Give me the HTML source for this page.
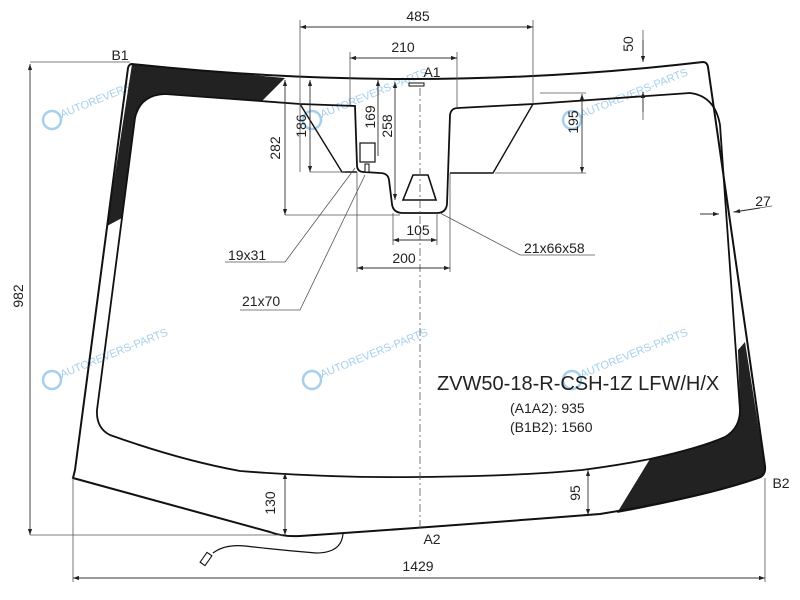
<!DOCTYPE html>
<html><head><meta charset="utf-8"><style>
html,body{margin:0;padding:0;background:#fff;}
svg{display:block;font-family:"Liberation Sans",Arial,sans-serif;}
</style></head><body>
<svg width="800" height="600" viewBox="0 0 800 600" xmlns="http://www.w3.org/2000/svg">
<defs>
<marker id="a" viewBox="0 0 10 10" refX="10" refY="5" markerWidth="10" markerHeight="6" orient="auto-start-reverse" markerUnits="userSpaceOnUse"><path d="M0,1.5 L10,5 L0,8.5 Z" fill="#222"/></marker>
</defs>
<rect width="800" height="600" fill="#fff"/>

<g fill="#8fc3e8" font-size="11" opacity="0.8">
<text x="62" y="118" transform="rotate(-22 62 118)">AUTOREVERS-PARTS</text>
<text x="322" y="118" transform="rotate(-22 322 118)">AUTOREVERS-PARTS</text>
<text x="582" y="118" transform="rotate(-22 582 118)">AUTOREVERS-PARTS</text>
<text x="62" y="378" transform="rotate(-22 62 378)">AUTOREVERS-PARTS</text>
<text x="322" y="378" transform="rotate(-22 322 378)">AUTOREVERS-PARTS</text>
<text x="582" y="378" transform="rotate(-22 582 378)">AUTOREVERS-PARTS</text>
</g>
<g fill="none" stroke="#8fc3e8" stroke-width="2.5" opacity="0.8">
<circle cx="52" cy="120" r="9"/><circle cx="312" cy="120" r="9"/><circle cx="572" cy="120" r="9"/>
<circle cx="52" cy="380" r="9"/><circle cx="312" cy="380" r="9"/><circle cx="572" cy="380" r="9"/>
</g>

<path d="M132,64 L285,78 L262,101 L165,94 Q140,95 135,118 L122,218 L107,226 Z" fill="#222"/>
<path d="M745,342 L765,468 Q766,476 758,478 Q700,498 617,513 L650,459 Q700,448 725,437 Q740,428 740,410 L738,350 Z" fill="#222"/>

<path d="M132,64 Q420,95 703,62 Q707,62 708,67 L765,466 Q766,476 758,478 Q700,498 600,514 Q420,528 300,536 Q283,537 270,532 L73,478 L75,470 L128,68 Q129,64 132,64 Z" fill="none" stroke="#111" stroke-width="2"/>

<path d="M165,94 Q140,95 135,118 L97,410 Q96,428 110,435 Q180,460 240,471 Q330,478 418,477 Q520,476 582,470 Q620,465 650,459 Q700,448 725,437 Q740,428 740,410 L720,125 Q715,96 690,93 L533,104 L458,108 Q451,108 450,115 L447,204 Q446,213 437,213 L403,213 Q393,213 392,204 L389,180 Q388,173 380,173 L364,172 Q357,172 357,165 L355,106 L300,104 Z" fill="none" stroke="#111" stroke-width="1.8"/>
<path d="M300,104 L342,172 L357,172 M533,104 L493,173 L450,173" fill="none" stroke="#111" stroke-width="1.4"/>
<path d="M403,200 L413,175 L428,175 L436,200 Z" fill="none" stroke="#111" stroke-width="1.6"/>
<rect x="360" y="143" width="15" height="19" fill="#fff" stroke="#111" stroke-width="1.2"/>
<rect x="365" y="164" width="4" height="8" fill="#fff" stroke="#111" stroke-width="1"/>
<rect x="409" y="83" width="15" height="3" fill="#fff" stroke="#111" stroke-width="1"/>

<line x1="420" y1="88" x2="420" y2="530" stroke="#555" stroke-width="0.8" stroke-dasharray="8,3,2,3"/>

<path d="M343,533 Q342,553 316,553 Q280,550 245,546 Q225,544 213,553" fill="none" stroke="#111" stroke-width="1.2"/>
<rect x="203" y="553" width="6" height="12" fill="#fff" stroke="#111" stroke-width="1.1" transform="rotate(35 206 559)"/>

<g stroke="#555" stroke-width="0.8" fill="none">
<path d="M300,20 V172 M533,20 V104"/>
<path d="M350,52 V105 M457,52 V108"/>
<path d="M357,172 V272 M450,173 V272"/>
<path d="M393,213 V245 M437,213 V245"/>
<path d="M285,215 H400"/>
<path d="M310,172 H345"/>
<path d="M495,173 H586 M540,93 H586"/>
<path d="M30,62 H130 M30,535 H283"/>
<path d="M73,478 V582 M765,478 V582"/>
<path d="M643,30 V58 M643,95 V120"/>
<path d="M700,214 H718 M733,212 L772,206"/>
<path d="M355,168 L285,262 H225 M365,175 L300,310 H240 M440,213 L520,255 H595"/>
</g>
<g stroke="#333" stroke-width="0.9" fill="none" marker-start="url(#a)" marker-end="url(#a)">
<line x1="300" y1="27" x2="533" y2="27"/>
<line x1="350" y1="58" x2="457" y2="58"/>
<line x1="357" y1="268" x2="450" y2="268"/>
<line x1="393" y1="240" x2="437" y2="240"/>
<line x1="285" y1="80" x2="285" y2="215"/>
<line x1="310" y1="80" x2="310" y2="172"/>
<line x1="395" y1="82" x2="395" y2="200"/>
<line x1="582" y1="94" x2="582" y2="173"/>
<line x1="30" y1="64" x2="30" y2="535"/>
<line x1="73" y1="578" x2="765" y2="578"/>
<line x1="285" y1="473" x2="285" y2="535"/>
<line x1="588" y1="470" x2="588" y2="515"/>
</g>
<line x1="378" y1="80" x2="378" y2="156" stroke="#333" stroke-width="0.9" marker-start="url(#a)"/>
<g stroke="#333" stroke-width="0.9" marker-end="url(#a)">
<line x1="643" y1="40" x2="643" y2="62"/>
<line x1="643" y1="112" x2="643" y2="92"/>
<line x1="700" y1="214" x2="719" y2="214"/>
<line x1="760" y1="208" x2="734" y2="212"/>
</g>

<g fill="#222" font-size="14">
<text x="418" y="21" text-anchor="middle">485</text>
<text x="403" y="52" text-anchor="middle">210</text>
<text x="418" y="235" text-anchor="middle">105</text>
<text x="404" y="263" text-anchor="middle">200</text>
<text x="432" y="77" text-anchor="middle">A1</text>
<text x="432" y="544" text-anchor="middle">A2</text>
<text x="120" y="60" text-anchor="middle">B1</text>
<text x="781" y="488" text-anchor="middle">B2</text>
<text x="418" y="571" text-anchor="middle">1429</text>
<text x="228" y="260">19x31</text>
<text x="242" y="306">21x70</text>
<text x="524" y="253">21x66x58</text>
<text x="763" y="206" text-anchor="middle">27</text>
<text transform="translate(280,148) rotate(-90)" text-anchor="middle">282</text>
<text transform="translate(306,126) rotate(-90)" text-anchor="middle">186</text>
<text transform="translate(375,117) rotate(-90)" text-anchor="middle">169</text>
<text transform="translate(392,126) rotate(-90)" text-anchor="middle">258</text>
<text transform="translate(578,122) rotate(-90)" text-anchor="middle">195</text>
<text transform="translate(633,44) rotate(-90)" text-anchor="middle">50</text>
<text transform="translate(23,296) rotate(-90)" text-anchor="middle">982</text>
<text transform="translate(275,503) rotate(-90)" text-anchor="middle">130</text>
<text transform="translate(580,493) rotate(-90)" text-anchor="middle">95</text>
</g>
<text x="437" y="390" font-size="20" fill="#222">ZVW50-18-R-CSH-1Z LFW/H/X</text>
<text x="510" y="413" font-size="14" fill="#222">(A1A2): 935</text>
<text x="510" y="432" font-size="14" fill="#222">(B1B2): 1560</text>
</svg>
</body></html>
